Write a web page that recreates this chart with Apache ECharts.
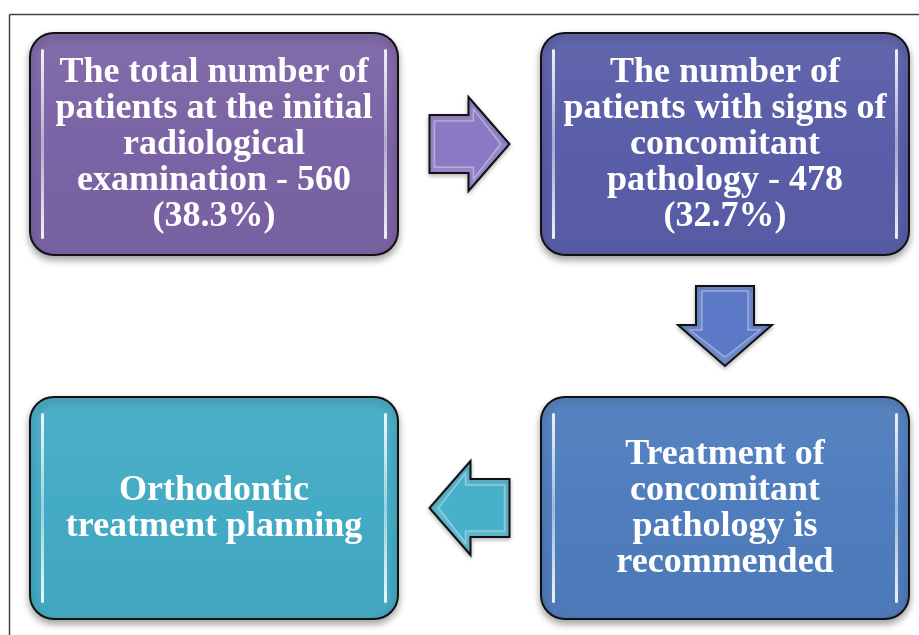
<!DOCTYPE html>
<html>
<head>
<meta charset="utf-8">
<script src="https://cdn.jsdelivr.net/npm/echarts@6/dist/echarts.min.js"></script>
<style>
html, body { margin: 0; padding: 0; background: #fff; }
#chart { width: 919px; height: 635px; }
</style>
</head>
<body>
<div id="chart"></div>
<script>
// flow steps, clockwise reading order
const stepTexts = [
  "The total number of\npatients at the initial\nradiological\nexamination - 560\n(38.3%)",
  "The number of\npatients with signs of\nconcomitant\npathology - 478\n(32.7%)",
  "Treatment of\nconcomitant\npathology is\nrecommended",
  "Orthodontic\ntreatment planning"
];
// logical grid cell of each step (column, row)
const stepCols = [0, 1, 1, 0];
const stepRows = [0, 0, 1, 1];
// arrows go from one step to the next
const arrowFrom = [0, 1, 2];
const arrowTo = [1, 2, 3];

const boxColors = ["#7b64a5", "#5a5ea8", "#4f7dbd", "#44abc4"];
const arrowColors = ["#8a79c4", "#5b79c6", "#49b0c9"];

const BOX_W = 368, BOX_H = 222, BOX_R = 24;

function shade(hex, amt) {
  const n = parseInt(hex.slice(1), 16);
  let r = (n >> 16) & 255, g = (n >> 8) & 255, b = n & 255;
  const f = v => Math.max(0, Math.min(255, Math.round(amt > 0 ? v + (255 - v) * amt : v * (1 + amt))));
  return "rgb(" + f(r) + "," + f(g) + "," + f(b) + ")";
}

function renderBox(params, api) {
  const c = api.coord([api.value(0), api.value(1)]);
  const i = api.value(2);
  const x = c[0] - BOX_W / 2, y = c[1] - BOX_H / 2;
  const col = boxColors[i];
  const hl = (hx) => ({
    type: "rect",
    shape: { x: hx, y: y + 16, width: 3, height: BOX_H - 32, r: 1.5 },
    style: {
      fill: new echarts.graphic.LinearGradient(0, 0, 0, 1, [
        { offset: 0, color: "rgba(255,255,255,0.9)" },
        { offset: 0.5, color: "rgba(255,255,255,0.45)" },
        { offset: 1, color: "rgba(255,255,255,0.9)" }
      ])
    }
  });
  return {
    type: "group",
    children: [
      {
        type: "rect",
        shape: { x: x, y: y, width: BOX_W, height: BOX_H, r: BOX_R },
        style: {
          fill: new echarts.graphic.LinearGradient(0, 0, 0, 1, [
            { offset: 0, color: shade(col, 0.05) },
            { offset: 0.5, color: col },
            { offset: 1, color: shade(col, -0.03) }
          ]),
          stroke: "#111",
          lineWidth: 2,
          shadowBlur: 7,
          shadowOffsetY: 4,
          shadowColor: "rgba(0,0,0,0.35)"
        }
      },
      hl(x + 11),
      hl(x + BOX_W - 14),
      {
        type: "text",
        style: {
          text: stepTexts[i],
          x: c[0],
          y: c[1] + 1,
          fill: "#fff",
          font: "bold 36px 'Liberation Serif', 'Times New Roman', serif",
          align: "center",
          verticalAlign: "middle",
          lineHeight: 36
        }
      }
    ]
  };
}

function renderArrow(params, api) {
  const a = api.coord([api.value(0), api.value(1)]);
  const b = api.coord([api.value(2), api.value(3)]);
  const i = api.value(4);
  const cx = (a[0] + b[0]) / 2, cy = (a[1] + b[1]) / 2;
  let dx = b[0] - a[0], dy = b[1] - a[1];
  const len = Math.sqrt(dx * dx + dy * dy);
  dx /= len; dy /= len;
  const px = -dy, py = dx;
  const pt = (u, v) => [cx + u * dx + v * px, cy + u * dy + v * py];
  const outline = [pt(-40, -29), pt(-1, -29), pt(-1, -47), pt(40, 0), pt(-1, 47), pt(-1, 29), pt(-40, 29)];
  const inner = [pt(-35, -23), pt(4, -23), pt(4, -35), pt(31, 0), pt(4, 35), pt(4, 23), pt(-35, 23)];
  const col = arrowColors[i];
  return {
    type: "group",
    children: [
      {
        type: "polygon",
        shape: { points: outline },
        style: {
          fill: shade(col, 0.12),
          stroke: "#111",
          lineWidth: 2,
          lineJoin: "miter",
          shadowBlur: 4,
          shadowOffsetY: 2,
          shadowColor: "rgba(0,0,0,0.25)"
        }
      },
      {
        type: "polygon",
        shape: { points: inner },
        style: { fill: col, stroke: "rgba(255,255,255,0.35)", lineWidth: 1.5 }
      }
    ]
  };
}

const chart = echarts.init(document.getElementById("chart"));
chart.setOption({
  animation: false,
  backgroundColor: "#fff",
  grid: { left: 214, right: 194, top: 144, bottom: 127 },
  xAxis: { type: "value", min: 0, max: 1, show: false },
  yAxis: { type: "value", min: 0, max: 1, inverse: true, show: false },
  graphic: [
    { type: "line", shape: { x1: 9.5, y1: 14.5, x2: 919, y2: 14.5 }, style: { stroke: "#444", lineWidth: 1.5 } },
    { type: "line", shape: { x1: 9.5, y1: 14.5, x2: 9.5, y2: 635 }, style: { stroke: "#444", lineWidth: 1.5 } }
  ],
  series: [
    {
      type: "custom",
      clip: false,
      renderItem: renderArrow,
      data: arrowFrom.map((f, k) => [stepCols[f], stepRows[f], stepCols[arrowTo[k]], stepRows[arrowTo[k]], k])
    },
    {
      type: "custom",
      clip: false,
      renderItem: renderBox,
      encode: { x: 0, y: 1 },
      data: stepTexts.map((t, i) => [stepCols[i], stepRows[i], i])
    }
  ]
});
</script>
</body>
</html>
